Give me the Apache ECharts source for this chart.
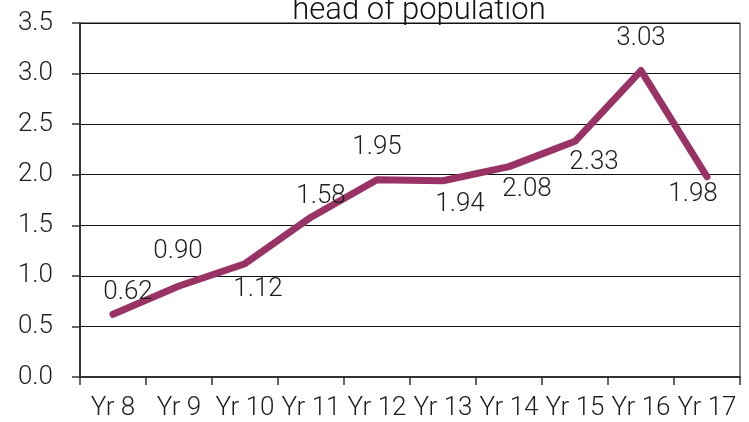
<!DOCTYPE html>
<html>
<head>
<meta charset="utf-8">
<script src="https://cdn.jsdelivr.net/npm/echarts@6/dist/echarts.min.js"></script>
<style>
  html, body { margin: 0; padding: 0; background: #fff; }
  #chart { width: 749px; height: 422px; }
</style>
</head>
<body>
<div id="chart"></div>
<script>
// Chart title
const titleText = 'head of population';

// Years along the horizontal axis
const categories = ['Yr 8', 'Yr 9', 'Yr 10', 'Yr 11', 'Yr 12', 'Yr 13', 'Yr 14', 'Yr 15', 'Yr 16', 'Yr 17'];

// Value per year
const values = [0.62, 0.90, 1.12, 1.58, 1.95, 1.94, 2.08, 2.33, 3.03, 1.98];

// Value-label placement relative to each point, [dx, dy] from the point centre
const labelOffsets = [
  [15, -22], [-1, -34], [13, 26], [10, -21], [0, -32],
  [17, 24], [18, 23], [19, 21], [0, -32], [-14, 18]
];

const FONT = 'Roboto';
const LINE_COLOR = '#993366';
const TEXT_COLOR = '#1e1e1e';

const chart = echarts.init(document.getElementById('chart'), null, { renderer: 'canvas' });

const seriesData = values.map((v, i) => ({
  value: v,
  label: { position: 'inside', offset: labelOffsets[i] }
}));

chart.setOption({
  animation: false,
  backgroundColor: '#ffffff',
  title: {
    text: titleText,
    left: 414,
    textAlign: 'center',
    top: -9,
    textStyle: { fontFamily: FONT, fontSize: 31, fontWeight: 300, color: '#111' }
  },
  grid: { left: 80, right: 9, top: 23, bottom: 45, containLabel: false },
  xAxis: {
    type: 'category',
    data: categories,
    boundaryGap: true,
    axisLine: { show: true, lineStyle: { color: '#333', width: 2 } },
    axisTick: { show: true, length: 8, lineStyle: { color: '#333', width: 1.5 } },
    axisLabel: { fontFamily: FONT, fontSize: 26, fontWeight: 300, color: TEXT_COLOR, margin: 18, interval: 0 },
    splitLine: { show: false }
  },
  yAxis: {
    type: 'value',
    min: 0,
    max: 3.5,
    interval: 0.5,
    axisLine: { show: true, lineStyle: { color: '#333', width: 2 } },
    axisTick: { show: true, length: 8, lineStyle: { color: '#333', width: 1.5 } },
    axisLabel: {
      fontFamily: FONT, fontSize: 26, fontWeight: 300, color: TEXT_COLOR, margin: 27,
      formatter: v => v.toFixed(1)
    },
    splitLine: { show: true, lineStyle: { color: '#111', width: 1 } }
  },
  series: [
    {
      type: 'line',
      data: seriesData,
      symbol: 'circle',
      symbolSize: 1,
      showSymbol: true,
      itemStyle: { color: 'transparent', borderWidth: 0 },
      lineStyle: { color: LINE_COLOR, width: 7, cap: 'round', join: 'round' },
      label: {
        show: true,
        fontFamily: FONT,
        fontSize: 26,
        fontWeight: 300,
        color: TEXT_COLOR,
        formatter: p => p.value.toFixed(2)
      }
    }
  ],
  graphic: [
    // plot-area frame on the top and right edges
    {
      type: 'line',
      shape: { x1: 80, y1: 23, x2: 740, y2: 23 },
      style: { stroke: '#888', lineWidth: 2 }
    },
    {
      type: 'line',
      shape: { x1: 740, y1: 23, x2: 740, y2: 377 },
      style: { stroke: '#888', lineWidth: 2 }
    }
  ]
});
</script>
</body>
</html>
